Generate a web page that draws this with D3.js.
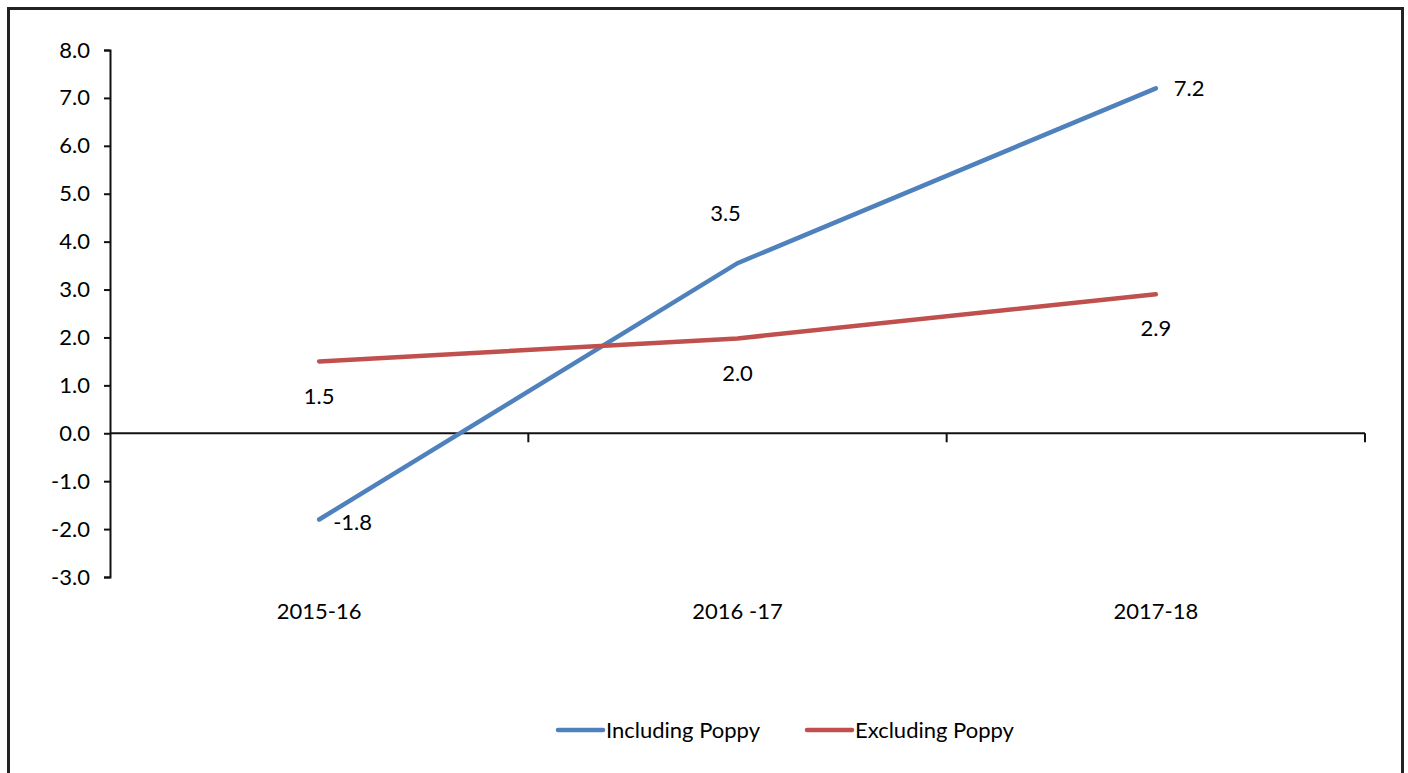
<!DOCTYPE html>
<html>
<head>
<meta charset="utf-8">
<script src="https://cdn.jsdelivr.net/npm/d3@7"></script>
<style>
  body { margin: 0; background: #fff; }
  svg text { font-family: "Lato", "Open Sans", sans-serif; fill: #000; }
</style>
</head>
<body>
<svg id="chart" width="1408" height="773"></svg>
<script>
// chart data
const categories = ['2015-16', '2016 -17', '2017-18'];
const includingPoppy = [-1.8, 3.55, 7.2];
const excludingPoppy = [1.5, 1.98, 2.9];
const includingLabels = ['-1.8', '3.5', '7.2'];
const excludingLabels = ['1.5', '2.0', '2.9'];
const yTicks = [-3, -2, -1, 0, 1, 2, 3, 4, 5, 6, 7, 8];
const seriesNames = ['Including Poppy', 'Excluding Poppy'];
const seriesColors = ['#4F81BD', '#C0504D'];

const svg = d3.select('#chart');
const width = 1408, height = 773;
const margin = { top: 50, right: 43, bottom: 196, left: 110 };

// outer frame
svg.append('rect')
  .attr('x', 8.5).attr('y', 8.5)
  .attr('width', 1394).attr('height', 800)
  .attr('fill', 'none').attr('stroke', '#222').attr('stroke-width', 3);

const x = d3.scaleBand()
  .domain(categories)
  .range([margin.left, width - margin.right]);

const y = d3.scaleLinear()
  .domain([-3, 8])
  .range([height - margin.bottom, margin.top]);

// y axis
const yAxis = svg.append('g')
  .attr('transform', `translate(${margin.left},0)`)
  .call(d3.axisLeft(y).tickValues(yTicks).tickFormat(d3.format('.1f')).tickSizeOuter(0).tickSize(6).tickPadding(14));
yAxis.select('.domain').attr('stroke', '#111').attr('stroke-width', 2);
yAxis.selectAll('.tick line').attr('stroke', '#111').attr('stroke-width', 2);
yAxis.selectAll('.tick text').attr('font-size', 22).attr('font-family', 'Lato, sans-serif')
  .text(d => d < 0 ? '-' + Math.abs(d).toFixed(1) : d.toFixed(1));

// x axis at zero
const xAxis = svg.append('g')
  .attr('transform', `translate(0,${y(0)})`);
xAxis.append('line')
  .attr('x1', margin.left).attr('x2', width - margin.right)
  .attr('stroke', '#111').attr('stroke-width', 2);
xAxis.selectAll('.xtick')
  .data(categories)
  .enter().append('line')
  .attr('x1', d => x(d) + x.bandwidth()).attr('x2', d => x(d) + x.bandwidth())
  .attr('y1', 0).attr('y2', 9)
  .attr('stroke', '#111').attr('stroke-width', 2);

// category labels at bottom
svg.selectAll('.cat')
  .data(categories)
  .enter().append('text')
  .attr('x', d => x(d) + x.bandwidth() / 2)
  .attr('y', y(-3) + 42)
  .attr('text-anchor', 'middle')
  .attr('font-size', 22)
  .text(d => d);

const cx = (d, i) => x(categories[i]) + x.bandwidth() / 2;
const line = d3.line().x((d, i) => cx(d, i)).y(d => y(d));

[includingPoppy, excludingPoppy].forEach((series, s) => {
  svg.append('path')
    .datum(series)
    .attr('fill', 'none')
    .attr('stroke', seriesColors[s])
    .attr('stroke-width', 4.5)
    .attr('stroke-linecap', 'round')
    .attr('d', line);
});

// data labels
const incOffsets = [[14, 10, 'start'], [-12, -42, 'middle'], [18, 8, 'start']];
const excOffsets = [[0, 43, 'middle'], [0, 43, 'middle'], [0, 42, 'middle']];
includingPoppy.forEach((v, i) => {
  svg.append('text')
    .attr('x', cx(v, i) + incOffsets[i][0])
    .attr('y', y(v) + incOffsets[i][1])
    .attr('text-anchor', incOffsets[i][2])
    .attr('font-size', 22)
    .text(includingLabels[i]);
});
excludingPoppy.forEach((v, i) => {
  svg.append('text')
    .attr('x', cx(v, i) + excOffsets[i][0])
    .attr('y', y(v) + excOffsets[i][1])
    .attr('text-anchor', excOffsets[i][2])
    .attr('font-size', 22)
    .text(excludingLabels[i]);
});

// legend
const legendX = [558, 807];
seriesNames.forEach((name, i) => {
  const g = svg.append('g').attr('transform', `translate(${legendX[i]},730)`);
  g.append('line')
    .attr('x1', 0).attr('x2', 45)
    .attr('stroke', seriesColors[i]).attr('stroke-width', 4.5)
    .attr('stroke-linecap', 'round');
  g.append('text')
    .attr('x', 48).attr('y', 8)
    .attr('font-size', 22)
    .text(name);
});
</script>
</body>
</html>
